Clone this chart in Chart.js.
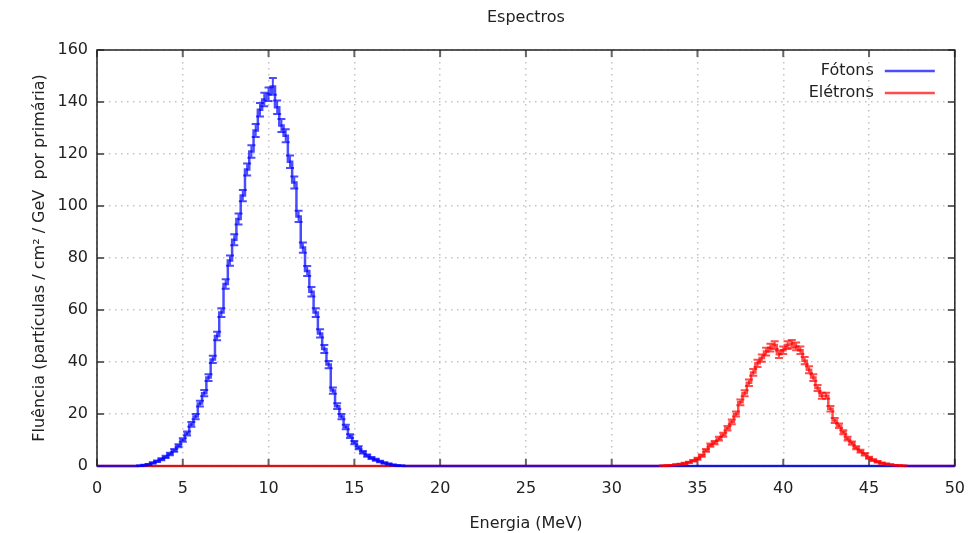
<!DOCTYPE html>
<html>
<head>
<meta charset="utf-8">
<script src="https://cdn.jsdelivr.net/npm/chart.js@4.4.0/dist/chart.umd.min.js"></script>
<style>
  html, body { margin: 0; padding: 0; background: #fff; }
  #wrap { width: 978px; height: 533px; position: relative; }
</style>
</head>
<body>
<div id="wrap"><canvas id="myChart"></canvas></div>
<script>
// Histogram bins (MeV)
const binWidth = 0.25;
const energyMax = 50;

// Photons: bins starting at 2.5 MeV
const photonFirstBin = 2.5;
const photonValues = [
  0.1, 0.3, 0.6, 1.2, 1.8, 2.6, 3.5, 4.6, 6.0, 7.8,
  10, 12.5, 16, 19, 24, 28, 34, 41, 50, 59,
  70, 79, 87, 95, 104, 114, 121, 129, 137, 141,
  143, 146, 138, 131, 127, 117, 109, 96, 84, 75,
  67, 59, 51, 45, 39, 29, 23, 19, 15, 11.5,
  9, 7, 5.3, 4, 3.1, 2.4, 1.7, 1.2, 0.8, 0.4,
  0.2, 0.1
];
const photonErrors = [
  0.1, 0.15, 0.2, 0.25, 0.3, 0.35, 0.4, 0.5, 0.55, 0.6,
  0.7, 0.8, 0.9, 1.0, 1.1, 1.2, 1.3, 1.4, 1.6, 1.7,
  1.8, 2.0, 2.1, 2.1, 2.2, 2.3, 2.4, 2.5, 2.6, 2.6,
  2.6, 3.2, 2.6, 2.5, 2.5, 2.4, 2.3, 2.2, 2.0, 1.9,
  1.8, 1.7, 1.6, 1.5, 1.4, 1.2, 1.1, 1.0, 0.9, 0.75,
  0.65, 0.6, 0.5, 0.45, 0.4, 0.35, 0.3, 0.25, 0.2, 0.15,
  0.1, 0.1
];

// Electrons: bins starting at 33 MeV
const electronFirstBin = 33;
const electronValues = [
  0.1, 0.2, 0.3, 0.5, 0.7, 1.0, 1.4, 2.0, 2.8, 4.0,
  6.0, 8.0, 9.0, 10.5, 12.0, 14.5, 17.0, 20.0, 24.5, 28.0,
  32, 36, 39.5, 41.5, 44, 45.5, 46.5, 43, 44.5, 46.5,
  47, 46, 44.5, 40.5, 37, 34, 30, 27, 27, 22,
  17.5, 15.5, 13, 10.5, 8.8, 7, 5.7, 4.5, 3.2, 2.3,
  1.6, 1.1, 0.8, 0.5, 0.3, 0.2, 0.1
];
const electronErrors = [
  0.1, 0.1, 0.12, 0.15, 0.2, 0.22, 0.26, 0.3, 0.37, 0.44,
  0.54, 0.62, 0.66, 0.71, 0.76, 0.84, 0.9, 1.0, 1.1, 1.16,
  1.24, 1.32, 1.38, 1.42, 1.46, 1.48, 1.5, 1.44, 1.47, 1.5,
  1.5, 1.5, 1.47, 1.4, 1.34, 1.28, 1.2, 1.14, 1.14, 1.03,
  0.92, 0.87, 0.79, 0.71, 0.65, 0.58, 0.53, 0.47, 0.39, 0.33,
  0.28, 0.23, 0.2, 0.16, 0.12, 0.1, 0.1
];

const seriesLabels = ['Fótons', 'Elétrons'];
const seriesColors = ['rgba(0, 0, 255, 0.7)', 'rgba(255, 0, 0, 0.7)'];

const FONT = 'DejaVu Sans, sans-serif';

// all bin centers across the axis, bins outside the given range are empty
const energies = [];
for (let e = 0; e <= energyMax + 1e-9; e += binWidth) energies.push(Math.round(e * 100) / 100);

function padSeries(first, list) {
  const start = Math.round(first / binWidth);
  return energies.map((e, i) => {
    const k = i - start;
    return (k >= 0 && k < list.length) ? list[k] : 0;
  });
}

function toPoints(first, values) {
  const ys = padSeries(first, values);
  return energies.map((e, i) => ({ x: e, y: ys[i] }));
}

// error bars, border, inward ticks, title and legend
const gnuplotLook = {
  id: 'gnuplotLook',
  beforeDatasetsDraw(chart) {
    const { ctx, chartArea: a, scales: { x, y } } = chart;
    ctx.save();
    ctx.strokeStyle = '#666';
    ctx.lineWidth = 2;
    x.ticks.forEach(t => {
      const px = x.getPixelForValue(t.value);
      ctx.beginPath();
      ctx.moveTo(px, a.bottom); ctx.lineTo(px, a.bottom - 7);
      ctx.moveTo(px, a.top); ctx.lineTo(px, a.top + 7);
      ctx.stroke();
    });
    y.ticks.forEach(t => {
      const py = y.getPixelForValue(t.value);
      ctx.beginPath();
      ctx.moveTo(a.left, py); ctx.lineTo(a.left + 7, py);
      ctx.moveTo(a.right, py); ctx.lineTo(a.right - 7, py);
      ctx.stroke();
    });
    ctx.strokeStyle = '#222';
    ctx.lineWidth = 1.5;
    ctx.strokeRect(a.left, a.top, a.right - a.left, a.bottom - a.top);
    ctx.restore();
  },
  afterDatasetsDraw(chart) {
    const { ctx, scales: { x, y } } = chart;
    chart.data.datasets.forEach(ds => {
      ctx.save();
      ctx.strokeStyle = ds.borderColor;
      ctx.lineWidth = 2;
      ds.data.forEach((p, i) => {
        const err = ds.errors[i];
        if (!err) return;
        const px = x.getPixelForValue(p.x);
        const y1 = y.getPixelForValue(p.y - err);
        const y2 = y.getPixelForValue(p.y + err);
        ctx.beginPath();
        ctx.moveTo(px, y1); ctx.lineTo(px, y2);
        ctx.moveTo(px - 4, y1); ctx.lineTo(px + 4, y1);
        ctx.moveTo(px - 4, y2); ctx.lineTo(px + 4, y2);
        ctx.stroke();
      });
      ctx.restore();
    });
  },
  afterDraw(chart) {
    const { ctx, chartArea: a } = chart;
    ctx.save();
    ctx.fillStyle = '#222';
    ctx.font = '16px ' + FONT;
    ctx.textAlign = 'center';
    ctx.textBaseline = 'middle';
    ctx.fillText('Espectros', (a.left + a.right) / 2, 18);

    ctx.textAlign = 'right';
    seriesLabels.forEach((lab, i) => {
      const ly = 71 + i * 22;
      ctx.fillStyle = '#222';
      ctx.fillText(lab, a.right - 81, ly);
      ctx.strokeStyle = seriesColors[i];
      ctx.lineWidth = 2.5;
      ctx.beginPath();
      ctx.moveTo(a.right - 70, ly); ctx.lineTo(a.right - 20, ly);
      ctx.stroke();
    });
    ctx.restore();
  }
};

const chart = new Chart(document.getElementById('myChart'), {
  type: 'line',
  data: {
    datasets: [
      {
        label: seriesLabels[0],
        data: toPoints(photonFirstBin, photonValues),
        errors: padSeries(photonFirstBin, photonErrors),
        borderColor: seriesColors[0],
        borderWidth: 2.5,
        stepped: 'middle',
        pointRadius: 0,
        fill: false,
        clip: 6
      },
      {
        label: seriesLabels[1],
        data: toPoints(electronFirstBin, electronValues),
        errors: padSeries(electronFirstBin, electronErrors),
        borderColor: seriesColors[1],
        borderWidth: 2.5,
        stepped: 'middle',
        pointRadius: 0,
        fill: false,
        clip: 6
      }
    ]
  },
  options: {
    responsive: true,
    maintainAspectRatio: false,
    animation: false,
    layout: { padding: { top: 50, right: 21, left: 0, bottom: 0 } },
    plugins: {
      legend: { display: false },
      title: { display: false },
      tooltip: { enabled: false }
    },
    scales: {
      x: {
        type: 'linear',
        min: 0,
        max: 50,
        afterFit: s => { s.height = 67; },
        ticks: {
          stepSize: 5,
          padding: 13,
          color: '#222',
          font: { family: FONT, size: 16 }
        },
        grid: { color: '#c4c4c4', lineWidth: 1.5, drawTicks: false },
        border: { display: false, dash: [1.5, 4.5] },
        title: {
          display: true,
          text: 'Energia (MeV)',
          color: '#222',
          font: { family: FONT, size: 16 },
          padding: { top: 0, bottom: 0 }
        }
      },
      y: {
        min: 0,
        max: 160,
        afterFit: s => { s.width = 97; },
        ticks: {
          stepSize: 20,
          padding: 9,
          color: '#222',
          font: { family: FONT, size: 16 }
        },
        grid: { color: '#c4c4c4', lineWidth: 1.5, drawTicks: false },
        border: { display: false, dash: [1.5, 4.5] },
        title: {
          display: true,
          text: 'Fluência (partículas / cm² / GeV  por primária)',
          color: '#222',
          font: { family: FONT, size: 16 },
          padding: { top: 30, bottom: 0 }
        }
      }
    }
  },
  plugins: [gnuplotLook]
});
</script>
</body>
</html>
